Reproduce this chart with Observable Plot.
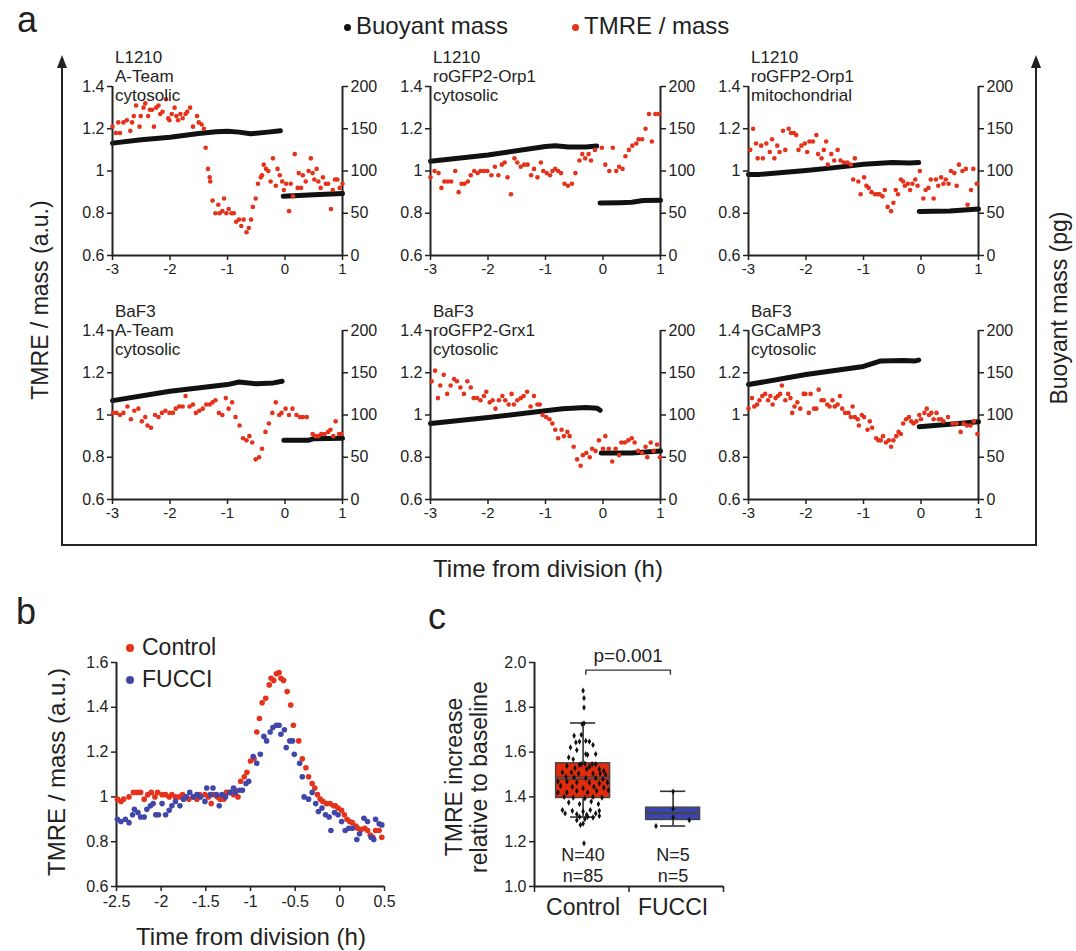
<!DOCTYPE html>
<html><head><meta charset="utf-8">
<script src="https://cdn.jsdelivr.net/npm/d3@7"></script>
<script src="https://cdn.jsdelivr.net/npm/@observablehq/plot@0.6"></script>
<style>
body{margin:0;background:#fff;}
#root{position:relative;width:1076px;height:951px;overflow:hidden;background:#fff;font-family:"Liberation Sans",Arial,Helvetica,sans-serif;color:#222;}
#root div{font-family:"Liberation Sans",Arial,Helvetica,sans-serif;}
</style></head>
<body><div id="root"></div>
<script>
// ---------------- DATA ----------------
const timeTicks = [-3, -2, -1, 0, 1];
const tmreTicks = [0.6, 0.8, 1, 1.2, 1.4];
const massTicks = [0, 50, 100, 150, 200];
const legendA = ["Buoyant mass", "TMRE / mass"];

const titles = [
  "L1210\nA-Team\ncytosolic",
  "L1210\nroGFP2-Orp1\ncytosolic",
  "L1210\nroGFP2-Orp1\nmitochondrial",
  "BaF3\nA-Team\ncytosolic",
  "BaF3\nroGFP2-Grx1\ncytosolic",
  "BaF3\nGCaMP3\ncytosolic"
];

// TMRE / mass [time (h), value]
const tmre1 = [[-3.00,1.21],[-2.94,1.18],[-2.90,1.23],[-2.87,1.18],[-2.81,1.23],[-2.75,1.24],[-2.69,1.19],[-2.66,1.23],[-2.63,1.26],[-2.59,1.31],[-2.53,1.21],[-2.51,1.26],[-2.46,1.30],[-2.43,1.32],[-2.38,1.26],[-2.35,1.29],[-2.31,1.29],[-2.28,1.21],[-2.24,1.30],[-2.20,1.31],[-2.17,1.27],[-2.13,1.28],[-2.07,1.34],[-2.03,1.25],[-2.01,1.24],[-1.97,1.27],[-1.92,1.30],[-1.89,1.26],[-1.86,1.24],[-1.82,1.27],[-1.78,1.25],[-1.73,1.27],[-1.70,1.28],[-1.65,1.30],[-1.60,1.21],[-1.53,1.26],[-1.50,1.23],[-1.45,1.22],[-1.41,1.20],[-1.38,1.11],[-1.34,1.01],[-1.31,0.97],[-1.30,0.95],[-1.26,0.86],[-1.21,0.80],[-1.16,0.84],[-1.14,0.80],[-1.09,0.81],[-1.06,0.87],[-1.02,0.80],[-0.98,0.82],[-0.93,0.80],[-0.89,0.80],[-0.85,0.76],[-0.80,0.77],[-0.76,0.74],[-0.72,0.77],[-0.67,0.71],[-0.63,0.73],[-0.59,0.77],[-0.56,0.83],[-0.51,0.87],[-0.47,0.94],[-0.42,0.97],[-0.40,0.98],[-0.37,1.03],[-0.33,1.01],[-0.29,1.00],[-0.25,0.95],[-0.21,1.06],[-0.16,0.93],[-0.13,1.01],[-0.09,0.98],[-0.05,0.95],[-0.02,0.91],[0.02,0.94],[0.07,0.81],[0.10,0.94],[0.14,0.88],[0.17,1.08],[0.22,0.92],[0.24,0.99],[0.28,0.92],[0.31,0.98],[0.36,0.95],[0.41,1.00],[0.45,1.06],[0.48,0.99],[0.51,0.96],[0.55,1.01],[0.58,0.95],[0.62,0.92],[0.66,0.97],[0.71,0.94],[0.75,0.94],[0.80,0.82],[0.83,0.91],[0.87,0.96],[0.91,0.96],[0.95,0.92],[1.00,0.94]];
const tmre2 = [[-3.00,0.97],[-2.93,1.00],[-2.86,0.99],[-2.81,0.92],[-2.76,0.95],[-2.70,0.95],[-2.64,0.95],[-2.57,1.00],[-2.51,0.90],[-2.46,0.94],[-2.41,0.94],[-2.35,0.95],[-2.30,0.98],[-2.24,1.00],[-2.18,0.99],[-2.13,1.00],[-2.07,1.00],[-2.01,1.00],[-1.94,0.98],[-1.88,1.02],[-1.82,0.98],[-1.76,1.03],[-1.71,1.04],[-1.66,0.97],[-1.60,0.89],[-1.54,1.06],[-1.49,1.04],[-1.43,1.02],[-1.37,1.03],[-1.31,1.03],[-1.25,0.98],[-1.20,1.01],[-1.14,0.97],[-1.08,1.04],[-1.04,1.00],[-0.98,0.99],[-0.92,0.98],[-0.88,1.00],[-0.83,1.01],[-0.78,1.00],[-0.73,0.99],[-0.67,0.94],[-0.61,0.93],[-0.54,0.94],[-0.48,0.99],[-0.41,1.05],[-0.36,1.08],[-0.31,1.06],[-0.25,1.08],[-0.21,1.05],[-0.14,1.10],[-0.02,1.11],[0.04,1.03],[0.11,1.00],[0.17,1.11],[0.23,1.00],[0.28,1.02],[0.34,1.01],[0.39,1.07],[0.45,1.10],[0.51,1.12],[0.58,1.13],[0.62,1.15],[0.68,1.15],[0.74,1.20],[0.80,1.27],[0.85,1.14],[0.91,1.27],[0.97,1.27]];
const tmre3 = [[-2.97,1.10],[-2.92,1.20],[-2.87,1.13],[-2.84,1.06],[-2.78,1.12],[-2.75,1.06],[-2.69,1.13],[-2.63,1.09],[-2.59,1.15],[-2.55,1.06],[-2.50,1.12],[-2.46,1.09],[-2.40,1.19],[-2.36,1.10],[-2.30,1.20],[-2.26,1.18],[-2.21,1.18],[-2.17,1.17],[-2.13,1.10],[-2.08,1.12],[-2.02,1.13],[-1.98,1.09],[-1.94,1.14],[-1.88,1.14],[-1.82,1.17],[-1.79,1.08],[-1.73,1.06],[-1.69,1.10],[-1.65,1.14],[-1.62,1.03],[-1.56,1.08],[-1.51,1.05],[-1.45,1.10],[-1.40,1.05],[-1.34,1.04],[-1.28,1.04],[-1.22,1.03],[-1.18,0.96],[-1.15,1.06],[-1.09,0.95],[-1.05,0.89],[-0.99,0.97],[-0.95,0.93],[-0.91,0.92],[-0.86,0.90],[-0.80,0.89],[-0.76,0.89],[-0.72,0.89],[-0.67,0.88],[-0.63,0.91],[-0.58,0.83],[-0.52,0.81],[-0.48,0.85],[-0.44,0.91],[-0.40,0.89],[-0.35,0.96],[-0.31,0.95],[-0.28,0.93],[-0.23,0.94],[-0.19,0.91],[-0.15,0.94],[-0.10,0.96],[-0.06,0.93],[-0.02,1.00],[0.04,0.87],[0.08,0.91],[0.13,0.92],[0.17,0.96],[0.22,0.87],[0.26,0.96],[0.30,0.93],[0.35,0.97],[0.39,0.94],[0.43,0.96],[0.48,0.94],[0.52,1.00],[0.58,0.99],[0.62,0.93],[0.66,1.03],[0.72,1.00],[0.78,1.01],[0.81,0.84],[0.87,0.91],[0.91,1.01],[0.97,0.94]];
const tmre4 = [[-2.99,1.01],[-2.93,1.01],[-2.87,1.00],[-2.81,1.01],[-2.74,1.04],[-2.68,0.98],[-2.62,1.02],[-2.55,1.03],[-2.49,0.97],[-2.43,0.99],[-2.39,0.95],[-2.33,0.94],[-2.26,1.00],[-2.20,0.99],[-2.14,1.01],[-2.08,1.02],[-2.01,1.01],[-1.95,1.01],[-1.90,1.03],[-1.84,1.04],[-1.78,1.04],[-1.73,1.09],[-1.66,1.04],[-1.60,1.05],[-1.55,1.01],[-1.49,1.02],[-1.43,1.03],[-1.37,1.05],[-1.31,1.05],[-1.26,1.06],[-1.21,1.07],[-1.15,1.01],[-1.09,1.00],[-1.03,1.08],[-0.98,1.03],[-0.92,1.06],[-0.86,0.99],[-0.79,0.95],[-0.73,0.89],[-0.67,0.88],[-0.62,0.90],[-0.57,0.87],[-0.51,0.79],[-0.45,0.80],[-0.40,0.84],[-0.34,0.92],[-0.28,0.96],[-0.22,1.01],[-0.16,1.06],[-0.10,1.00],[-0.06,1.01],[0.01,1.03],[0.07,1.00],[0.13,1.03],[0.20,1.00],[0.26,0.99],[0.31,0.99],[0.38,0.99],[0.48,0.91],[0.53,0.90],[0.58,0.90],[0.63,0.91],[0.69,0.91],[0.75,0.92],[0.79,0.93],[0.84,0.90],[0.88,0.97],[0.94,0.91],[0.98,0.91]];
const tmre5 = [[-2.98,1.16],[-2.92,1.21],[-2.87,1.08],[-2.83,1.14],[-2.77,1.19],[-2.71,1.10],[-2.65,1.14],[-2.59,1.17],[-2.54,1.16],[-2.48,1.13],[-2.42,1.10],[-2.36,1.16],[-2.30,1.13],[-2.25,1.08],[-2.19,1.08],[-2.13,1.07],[-2.07,1.09],[-2.03,1.11],[-1.97,1.06],[-1.92,1.07],[-1.87,1.03],[-1.81,1.07],[-1.75,1.09],[-1.70,1.07],[-1.64,1.05],[-1.59,1.10],[-1.55,1.05],[-1.49,1.07],[-1.43,1.08],[-1.38,1.09],[-1.32,1.11],[-1.26,1.04],[-1.20,1.09],[-1.14,1.05],[-1.10,1.05],[-1.05,1.00],[-0.99,0.99],[-0.93,0.98],[-0.88,0.96],[-0.83,0.93],[-0.78,0.89],[-0.72,0.93],[-0.68,0.90],[-0.62,0.92],[-0.58,0.90],[-0.51,0.85],[-0.45,0.79],[-0.39,0.76],[-0.35,0.81],[-0.29,0.82],[-0.23,0.80],[-0.19,0.84],[-0.13,0.83],[-0.07,0.88],[0.00,0.84],[0.04,0.90],[0.10,0.84],[0.16,0.78],[0.22,0.84],[0.28,0.81],[0.32,0.87],[0.38,0.87],[0.44,0.88],[0.50,0.89],[0.55,0.87],[0.61,0.83],[0.68,0.82],[0.74,0.85],[0.77,0.80],[0.83,0.87],[0.88,0.83],[0.94,0.86],[0.99,0.80]];
const tmre6 = [[-3.00,1.03],[-2.94,1.08],[-2.90,1.04],[-2.85,1.05],[-2.81,1.07],[-2.76,1.09],[-2.71,1.10],[-2.66,1.07],[-2.62,1.09],[-2.58,1.05],[-2.53,1.08],[-2.49,1.09],[-2.45,1.10],[-2.42,1.14],[-2.36,1.07],[-2.31,1.10],[-2.27,1.08],[-2.24,1.01],[-2.20,1.04],[-2.15,1.06],[-2.10,1.03],[-2.04,1.10],[-2.01,1.10],[-1.95,1.01],[-1.92,1.10],[-1.86,1.03],[-1.82,1.03],[-1.78,1.12],[-1.73,1.07],[-1.69,1.07],[-1.63,1.05],[-1.59,1.04],[-1.54,1.07],[-1.50,1.04],[-1.45,1.05],[-1.41,1.09],[-1.37,1.03],[-1.32,1.01],[-1.26,1.01],[-1.22,0.99],[-1.19,1.04],[-1.15,0.99],[-1.10,0.98],[-1.08,0.95],[-1.03,1.00],[-0.99,0.99],[-0.93,0.93],[-0.89,0.97],[-0.85,0.94],[-0.78,0.89],[-0.74,0.88],[-0.70,0.88],[-0.66,0.90],[-0.61,0.87],[-0.56,0.88],[-0.52,0.85],[-0.48,0.88],[-0.43,0.90],[-0.39,0.92],[-0.35,0.91],[-0.31,0.96],[-0.26,0.98],[-0.21,0.99],[-0.17,0.97],[-0.13,0.96],[-0.08,0.97],[-0.03,1.00],[0.00,0.98],[0.06,1.01],[0.10,1.03],[0.14,1.00],[0.18,1.01],[0.22,0.98],[0.27,1.01],[0.31,0.98],[0.35,0.98],[0.39,0.97],[0.47,0.99],[0.55,0.96],[0.62,0.96],[0.69,0.92],[0.74,0.96],[0.80,0.95],[0.86,0.95],[0.92,0.97],[0.98,0.91]];

// Buoyant mass (pg) [time (h), mass], before and after division
const mass1Pre = [[-3,133],[-2.5,137],[-2,140],[-1.5,144.5],[-1.2,146.5],[-1,147],[-0.8,146],[-0.6,144],[-0.3,146],[-0.08,147.5]];
const mass1Post = [[-0.03,70],[0.5,72],[1,73.5]];
const mass2Pre = [[-3,111.5],[-2,119],[-1,129],[-0.83,130],[-0.6,128.5],[-0.3,128.5],[-0.11,129.5]];
const mass2Post = [[-0.05,62],[0.3,62.5],[0.5,63],[0.7,65],[1,65.5]];
const mass3Pre = [[-3,96],[-2.8,96],[-2,100.5],[-1.5,104],[-1,108],[-0.5,110],[-0.2,109.5],[-0.04,110]];
const mass3Post = [[-0.03,52],[0.5,52.7],[1,55]];
const mass4Pre = [[-3,117],[-2,128],[-1,136],[-0.8,139],[-0.5,137],[-0.2,138],[-0.05,140]];
const mass4Post = [[-0.02,70],[0.4,70],[0.5,72],[1,72.5]];
const mass5Pre = [[-3,90],[-2,97],[-1,105],[-0.7,107.5],[-0.3,109],[-0.1,108],[-0.05,105.5]];
const mass5Post = [[-0.03,55],[0.5,55],[1,57.5]];
const mass6Pre = [[-3,136],[-2,148],[-1,157.5],[-0.7,164],[-0.3,164.5],[-0.1,164],[-0.04,165]];
const mass6Post = [[-0.03,86],[0.5,89],[1,92]];

// Panel b
const bTimeTicks = [-2.5, -2, -1.5, -1, -0.5, 0, 0.5];
const bTmreTicks = [0.6, 0.8, 1, 1.2, 1.4, 1.6];
const bSeries = ["Control", "FUCCI"];
const controlTrace = [[-2.49,0.99],[-2.45,0.98],[-2.42,0.99],[-2.36,1.00],[-2.31,1.02],[-2.27,1.02],[-2.23,1.02],[-2.19,0.99],[-2.15,1.01],[-2.11,1.02],[-2.07,1.00],[-2.04,1.02],[-1.99,1.01],[-1.95,1.01],[-1.91,1.00],[-1.88,1.01],[-1.84,1.00],[-1.80,1.00],[-1.76,1.01],[-1.73,1.00],[-1.69,0.99],[-1.64,1.00],[-1.60,0.99],[-1.57,1.01],[-1.51,1.01],[-1.47,1.00],[-1.44,0.97],[-1.41,1.01],[-1.37,1.00],[-1.34,0.99],[-1.30,0.99],[-1.27,1.02],[-1.23,1.02],[-1.19,1.01],[-1.17,1.03],[-1.14,1.00],[-1.11,1.07],[-1.07,1.09],[-1.04,1.11],[-1.00,1.16],[-0.96,1.17],[-0.93,1.29],[-0.90,1.35],[-0.87,1.42],[-0.83,1.44],[-0.79,1.50],[-0.77,1.53],[-0.74,1.52],[-0.71,1.55],[-0.68,1.555],[-0.66,1.53],[-0.63,1.52],[-0.59,1.47],[-0.55,1.41],[-0.52,1.32],[-0.46,1.25],[-0.42,1.17],[-0.38,1.13],[-0.35,1.09],[-0.31,1.06],[-0.28,1.04],[-0.25,1.01],[-0.22,0.99],[-0.19,0.98],[-0.15,0.97],[-0.11,0.97],[-0.07,0.96],[-0.05,0.96],[-0.02,0.95],[0.02,0.94],[0.05,0.92],[0.08,0.90],[0.11,0.89],[0.14,0.885],[0.18,0.87],[0.20,0.86],[0.24,0.855],[0.28,0.86],[0.31,0.85],[0.34,0.83],[0.37,0.82],[0.40,0.85],[0.44,0.85],[0.47,0.82]];
const fucciTrace = [[-2.49,0.90],[-2.45,0.89],[-2.40,0.90],[-2.36,0.885],[-2.32,0.92],[-2.30,0.945],[-2.26,0.93],[-2.23,0.91],[-2.19,0.91],[-2.16,0.945],[-2.12,0.96],[-2.09,0.97],[-2.06,0.92],[-2.03,0.92],[-1.99,0.97],[-1.95,0.92],[-1.91,0.94],[-1.88,0.96],[-1.84,0.98],[-1.79,0.96],[-1.75,0.99],[-1.72,1.00],[-1.68,1.02],[-1.64,1.00],[-1.60,1.01],[-1.56,1.00],[-1.51,0.98],[-1.49,1.04],[-1.45,1.01],[-1.42,1.04],[-1.38,1.01],[-1.35,0.96],[-1.32,1.01],[-1.28,1.00],[-1.23,1.02],[-1.19,1.04],[-1.17,1.02],[-1.12,1.03],[-1.09,1.03],[-1.05,1.06],[-1.02,1.07],[-0.97,1.18],[-0.93,1.15],[-0.89,1.19],[-0.85,1.27],[-0.82,1.25],[-0.78,1.29],[-0.75,1.31],[-0.71,1.32],[-0.68,1.32],[-0.66,1.28],[-0.62,1.30],[-0.60,1.22],[-0.56,1.25],[-0.53,1.25],[-0.51,1.19],[-0.45,1.15],[-0.42,1.09],[-0.40,1.00],[-0.35,0.99],[-0.31,1.02],[-0.27,0.97],[-0.24,0.935],[-0.20,0.95],[-0.16,0.92],[-0.12,0.91],[-0.10,0.85],[-0.06,0.93],[-0.02,0.92],[0.02,0.89],[0.06,0.85],[0.10,0.86],[0.14,0.86],[0.19,0.81],[0.22,0.835],[0.27,0.905],[0.31,0.89],[0.35,0.82],[0.38,0.81],[0.40,0.90],[0.44,0.88],[0.47,0.875]];

// Panel c
const cTicks = [1.0, 1.2, 1.4, 1.6, 1.8, 2.0];
const cGroups = ["Control", "FUCCI"];
const cAnimals = [40, 5];   // N
const cCells = [85, 5];     // n
const cQ1 = [1.395, 1.297];
const cQ3 = [1.55, 1.352];
const cMedian = [1.478, 1.328];
const cMean = [1.49, 1.33];
const cWhiskerLo = [1.31, 1.27];
const cWhiskerHi = [1.73, 1.425];
// [horizontal jitter (category units), value]
const controlCells = [[0.00,1.874],[0.01,1.841],[0.01,1.799],[-0.01,1.725],[0.01,1.728],[-0.02,1.677],[-0.10,1.673],[-0.04,1.647],[-0.08,1.643],[0.03,1.650],[0.07,1.647],[0.11,1.632],[-0.14,1.621],[-0.07,1.609],[0.03,1.591],[0.05,1.588],[0.14,1.591],[-0.16,1.576],[-0.11,1.568],[-0.02,1.546],[0.02,1.549],[0.10,1.546],[0.14,1.546],[-0.04,1.543],[-0.18,1.539],[-0.09,1.528],[0.04,1.524],[0.07,1.534],[0.18,1.524],[0.23,1.516],[-0.23,1.509],[-0.13,1.509],[-0.05,1.504],[0.11,1.504],[0.19,1.504],[0.25,1.499],[-0.19,1.490],[-0.10,1.487],[0.03,1.484],[0.14,1.484],[0.22,1.479],[-0.28,1.469],[-0.18,1.469],[-0.07,1.464],[0.07,1.464],[0.18,1.460],[0.27,1.464],[-0.25,1.449],[-0.12,1.445],[0.00,1.439],[0.12,1.445],[0.23,1.442],[-0.28,1.420],[-0.18,1.420],[-0.07,1.427],[0.05,1.420],[0.15,1.427],[0.28,1.430],[-0.21,1.400],[-0.11,1.397],[0.02,1.394],[0.11,1.400],[0.21,1.397],[-0.16,1.375],[-0.04,1.368],[0.09,1.379],[0.17,1.368],[-0.23,1.341],[-0.12,1.338],[0.00,1.335],[0.08,1.341],[0.18,1.338],[-0.20,1.326],[-0.07,1.323],[0.04,1.320],[0.14,1.326],[-0.04,1.311],[0.05,1.311],[0.11,1.308],[0.18,1.315],[-0.07,1.296],[0.02,1.301],[0.00,1.281],[-0.03,1.275],[0.01,1.193]];
const fucciCells = [[-0.19,1.270],[0.00,1.308],[0.18,1.296],[0.00,1.348],[0.00,1.424]];
const pComparison = {a: "Control", b: "FUCCI", y: 1.966, label: "p=0.001"};

// ---------------- STYLE / LAYOUT ----------------
const RED = "#e4321b", BLUE = "#4147a9", BLACK = "#111", INK = "#222";
const FONT = '"Liberation Sans", Arial, Helvetica, sans-serif';
const root = document.getElementById("root");

function svgStyle(left, top) {
  return `position:absolute;left:${left}px;top:${top}px;background:transparent;overflow:visible;max-width:none;color:${INK};font-family:${FONT};`;
}
function addText(txt, x, y, size, {rotate = 0, anchor = "middle", lh = 1.15, color = INK} = {}) {
  const d = document.createElement("div");
  d.textContent = txt;
  const tx = anchor === "start" ? "0" : "-50%";
  d.style.cssText = `position:absolute;left:${x}px;top:${y}px;font-size:${size}px;line-height:${lh};white-space:pre;text-align:${anchor === "start" ? "left" : "center"};color:${color};transform:translate(${tx},-50%)${rotate ? ` rotate(${rotate}deg)` : ""};`;
  root.appendChild(d);
  return d;
}
function addDot(cx, cy, r, color) {
  const d = document.createElement("div");
  d.style.cssText = `position:absolute;left:${cx - r}px;top:${cy - r}px;width:${2 * r}px;height:${2 * r}px;border-radius:50%;background:${color};`;
  root.appendChild(d);
}
const fmt1 = d => String(+(+d).toFixed(1));

// ---------------- PANEL a ----------------
const tmreSets = [tmre1, tmre2, tmre3, tmre4, tmre5, tmre6];
const massPre = [mass1Pre, mass2Pre, mass3Pre, mass4Pre, mass5Pre, mass6Pre];
const massPost = [mass1Post, mass2Post, mass3Post, mass4Post, mass5Post, mass6Post];
const colLeft = [112, 430, 748];
const rowTop = [86, 330];
const titleGap = [23, 13];
const FW = 230, FH = 169;
const M = {l: 50, r: 45, t: 12, b: 32};

tmreSets.forEach((red, i) => {
  const col = i % 3, row = Math.floor(i / 3);
  const left = colLeft[col] - M.l, top = rowTop[row] - M.t;
  const dims = {width: FW + M.l + M.r, height: FH + M.t + M.b, marginLeft: M.l, marginRight: M.r, marginTop: M.t, marginBottom: M.b};
  // mass layer (right axis)
  const massPlot = Plot.plot({
    ...dims,
    style: svgStyle(left, top),
    x: {domain: [-3, 1], axis: null},
    y: {domain: [0, 200]},
    marks: [
      Plot.axisY(massTicks, {anchor: "right", tickSize: 5, tickPadding: 3, fontSize: 16, strokeWidth: 1.5, label: null, tickFormat: d => String(d)}),
      Plot.ruleX([1], {stroke: INK, strokeWidth: 2}),
      Plot.line(massPre[i], {x: d => d[0], y: d => d[1], stroke: BLACK, strokeWidth: 5, strokeLinecap: "round"}),
      Plot.line(massPost[i], {x: d => d[0], y: d => d[1], stroke: BLACK, strokeWidth: 5, strokeLinecap: "round"})
    ]
  });
  root.appendChild(massPlot);
  // TMRE layer (left axis)
  const tmrePlot = Plot.plot({
    ...dims,
    style: svgStyle(left, top),
    x: {domain: [-3, 1]},
    y: {domain: [0.6, 1.4]},
    marks: [
      Plot.axisY(tmreTicks, {anchor: "left", tickSize: 5, tickPadding: 3, fontSize: 16, strokeWidth: 1.5, label: null, tickFormat: fmt1}),
      Plot.axisX(timeTicks, {anchor: "bottom", tickSize: 5, tickPadding: 3, fontSize: 15, strokeWidth: 1.5, label: null, tickFormat: d => String(d)}),
      Plot.ruleX([-3], {stroke: INK, strokeWidth: 2}),
      Plot.ruleY([0.6], {stroke: INK, strokeWidth: 2}),
      Plot.dot(red, {x: d => d[0], y: d => d[1], r: 2.3, fill: RED, stroke: "none"})
    ]
  });
  root.appendChild(tmrePlot);
  // subplot title
  const t = addText(titles[i], colLeft[col] + 3, 0, 17, {anchor: "start", lh: "19px"});
  t.style.transform = "none";
  t.style.top = (rowTop[row] - titleGap[row] - 15) + "px";
});

// frame with arrows
(function frame() {
  const f = document.createElement("div");
  f.style.cssText = `position:absolute;left:61px;top:64px;width:976px;height:482px;border-left:2px solid ${INK};border-right:2px solid ${INK};border-bottom:2px solid ${INK};box-sizing:border-box;`;
  root.appendChild(f);
  [62, 1036].forEach(x => {
    const a = document.createElement("div");
    a.style.cssText = `position:absolute;left:${x - 5}px;top:55px;width:0;height:0;border-left:5px solid transparent;border-right:5px solid transparent;border-bottom:13px solid ${INK};`;
    root.appendChild(a);
  });
})();

addText("a", 17, 20, 36, {anchor: "start"});
addDot(347, 27, 3.5, BLACK);
addText(legendA[0], 356, 26, 24, {anchor: "start"});
addDot(575, 27, 3.5, RED);
addText(legendA[1], 584, 26, 24, {anchor: "start"});
addText("TMRE / mass (a.u.)", 40, 300, 23, {rotate: -90});
addText("Buoyant mass (pg)", 1059, 308, 23, {rotate: -90});
addText("Time from division (h)", 548, 569, 24);

// ---------------- PANEL b ----------------
const bPlot = Plot.plot({
  width: 60 + 268 + 20, height: 10 + 224 + 40,
  marginLeft: 60, marginRight: 20, marginTop: 10, marginBottom: 40,
  style: svgStyle(56, 652),
  x: {domain: [-2.5, 0.5]},
  y: {domain: [0.6, 1.6]},
  marks: [
    Plot.axisY(bTmreTicks, {anchor: "left", tickSize: 5, tickPadding: 3, fontSize: 16, strokeWidth: 1.5, label: null, tickFormat: fmt1}),
    Plot.axisX(bTimeTicks, {anchor: "bottom", tickSize: 5, tickPadding: 4, fontSize: 16, strokeWidth: 1.5, label: null, tickFormat: d => String(d)}),
    Plot.ruleX([-2.5], {stroke: INK, strokeWidth: 2}),
    Plot.ruleY([0.6], {stroke: INK, strokeWidth: 2}),
    Plot.dot(controlTrace, {x: d => d[0], y: d => d[1], r: 2.8, fill: RED, stroke: "none"}),
    Plot.dot(fucciTrace, {x: d => d[0], y: d => d[1], r: 2.8, fill: BLUE, stroke: "none"})
  ]
});
root.appendChild(bPlot);
addText("b", 16, 612, 36, {anchor: "start"});
addDot(130, 648, 4, RED);
addText(bSeries[0], 142, 647, 23, {anchor: "start"});
addDot(130, 680, 4, BLUE);
addText(bSeries[1], 142, 679, 23, {anchor: "start"});
addText("TMRE / mass (a.u.)", 57, 772, 24, {rotate: -90});
addText("Time from division (h)", 251, 937, 24);

// ---------------- PANEL c ----------------
const catPos = {Control: 0, FUCCI: 1};
const stats = cGroups.map((g, i) => ({g, x: catPos[g], q1: cQ1[i], q3: cQ3[i], med: cMedian[i], mean: cMean[i], lo: cWhiskerLo[i], hi: cWhiskerHi[i], N: cAnimals[i], n: cCells[i]}));
const BOXW = 0.3, CAPW = 0.14;
const bx = pComparison, inset = 0.03, drop = 0.018;
const bracket = [
  [catPos[bx.a] + inset, bx.y - drop], [catPos[bx.a] + inset, bx.y],
  [catPos[bx.b] - inset, bx.y], [catPos[bx.b] - inset, bx.y - drop]
];
const cPlot = Plot.plot({
  width: 60 + 189 + 20, height: 30 + 224 + 40,
  marginLeft: 60, marginRight: 20, marginTop: 30, marginBottom: 40,
  style: svgStyle(474, 632),
  x: {domain: [-0.54, 1.56]},
  y: {domain: [1.0, 2.0]},
  marks: [
    Plot.axisY(cTicks, {anchor: "left", tickSize: 5, tickPadding: 3, fontSize: 16, strokeWidth: 1.5, label: null, tickFormat: d => (+d).toFixed(1)}),
    Plot.axisX([-0.54, 0.51, 1.56], {anchor: "bottom", tickSize: 6, strokeWidth: 1.5, label: null, tickFormat: () => ""}),
    Plot.ruleX([-0.54], {stroke: INK, strokeWidth: 2}),
    Plot.ruleY([1.0], {stroke: INK, strokeWidth: 2}),
    Plot.ruleX(stats, {x: "x", y1: "lo", y2: "hi", stroke: "#333", strokeWidth: 1.6}),
    Plot.ruleY(stats, {y: "lo", x1: d => d.x - CAPW, x2: d => d.x + CAPW, stroke: "#333", strokeWidth: 1.6}),
    Plot.ruleY(stats, {y: "hi", x1: d => d.x - CAPW, x2: d => d.x + CAPW, stroke: "#333", strokeWidth: 1.6}),
    Plot.rect(stats, {x1: d => d.x - BOXW, x2: d => d.x + BOXW, y1: "q1", y2: "q3", fill: d => d.g === "Control" ? "#e02b0c" : "#3b45ab", stroke: "#444", strokeWidth: 1.4}),
    Plot.ruleY(stats, {y: "med", x1: d => d.x - BOXW, x2: d => d.x + BOXW, stroke: "#444", strokeWidth: 1.2}),
    Plot.ruleY(stats, {y: "mean", x1: d => d.x - BOXW, x2: d => d.x + BOXW, stroke: "#444", strokeWidth: 1.2}),
    Plot.dot(controlCells, {x: d => catPos.Control + d[0], y: d => d[1], symbol: "diamond", r: 1.9, fill: "#111"}),
    Plot.dot(fucciCells, {x: d => catPos.FUCCI + d[0], y: d => d[1], symbol: "diamond", r: 1.9, fill: "#111"}),
    Plot.line(bracket, {x: d => d[0], y: d => d[1], stroke: "#333", strokeWidth: 1.4}),
    Plot.text([bx], {x: d => (catPos[d.a] + catPos[d.b]) / 2, y: "y", text: "label", dy: -14, fontSize: 19, fill: INK}),
    Plot.text(stats, {x: "x", frameAnchor: "bottom", text: d => `N=${d.N}\nn=${d.n}`, dy: -5, lineHeight: 1.13, fontSize: 18, fill: INK}),
    Plot.text(stats, {x: "x", frameAnchor: "bottom", text: "g", dy: 28, fontSize: 23, fill: INK})
  ]
});
root.appendChild(cPlot);
addText("c", 428, 617, 36, {anchor: "start"});
addText("TMRE increase\nrelative to baseline", 467, 777, 23, {rotate: -90, lh: 1.09});
</script>
</body></html>
